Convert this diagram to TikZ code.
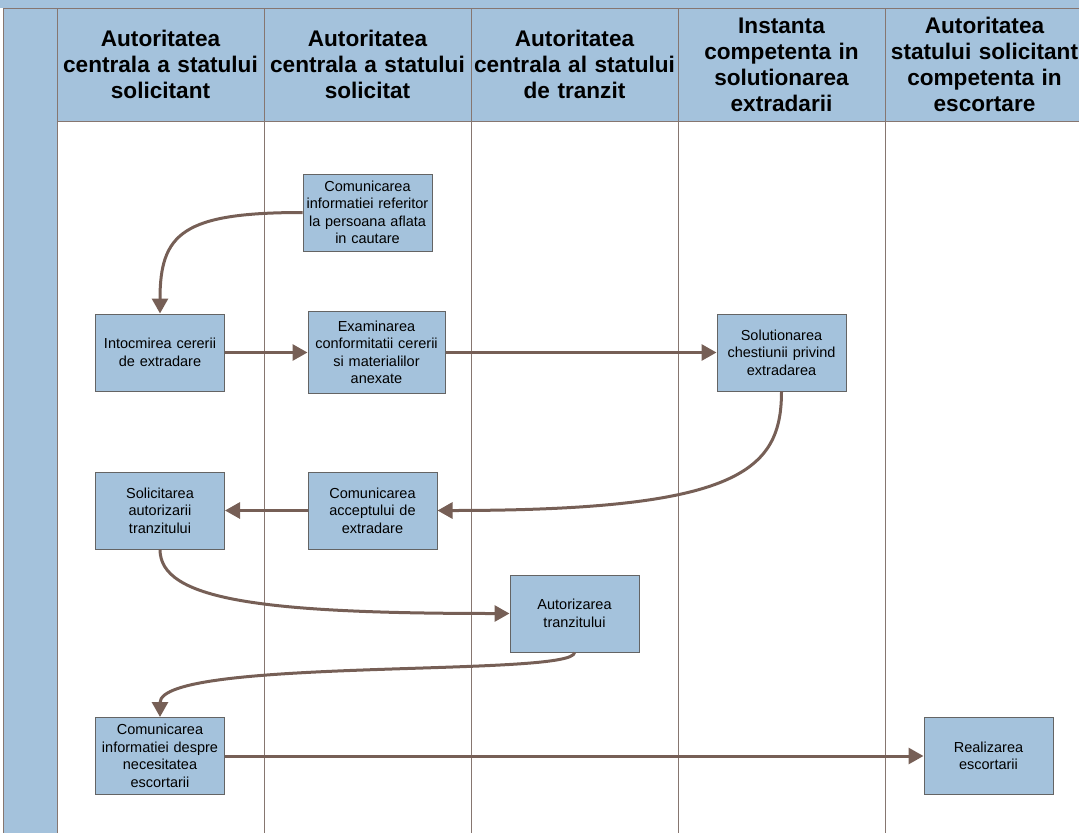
\documentclass[tikz,border=0pt]{standalone}
\usepackage{fontspec}
\setmainfont{Liberation Sans}
\usetikzlibrary{arrows.meta}
\definecolor{LaneBlue}{RGB}{164, 194, 220}
\definecolor{LaneLine}{RGB}{134, 118, 112}
\definecolor{BoxEdge}{RGB}{100, 100, 100}
\definecolor{FlowBrown}{RGB}{118, 95, 86}
\tikzset{
  lanehead/.style={font=\bfseries\fontsize{22.6}{26}\selectfont, align=center,
                   text width=230pt, inner sep=0pt},
  taskbox/.style={draw=BoxEdge, fill=LaneBlue, line width=1pt, text width=125pt,
                  inner sep=2pt, minimum height=77pt, align=center,
                  font=\fontsize{14.5}{17.5}\selectfont},
  flow/.style={draw=FlowBrown, line width=3pt, -{Triangle[length=15pt, width=16pt]}}
}

\begin{document}
\begin{tikzpicture}[x=1pt, y=-1pt]
  \useasboundingbox (0,0) rectangle (1079,833);
  % Background: top band, left band, header row
  \fill[LaneBlue] (0,0) rectangle (1079,8);
  \fill[LaneBlue] (3,8) rectangle (57,833);
  \fill[LaneBlue] (57,8) rectangle (1079,121);
  % Lane borders
  \draw[LaneLine, line width=1pt] (3,8) -- (1079,8);
  \draw[LaneLine, line width=1pt] (3,8) -- (3,833);
  \draw[LaneLine, line width=1pt] (57,121) -- (1079,121);
  \foreach \x in {57,264,...,885} {
    \draw[LaneLine, line width=1pt] (\x,8) -- (\x,833);
  }
  % Lane headers
  \foreach \n/\x/\t in {headSolicitant/160.5/{Autoritatea\\centrala a statului\\solicitant},
                        headSolicitat/367.5/{Autoritatea\\centrala a statului\\solicitat},
                        headTranzit/574.5/{Autoritatea\\centrala al statului\\de tranzit},
                        headInstanta/781.5/{Instanta\\competenta in\\solutionarea\\extradarii},
                        headEscorta/984.5/{Autoritatea\\statului solicitant\\competenta in\\escortare}} {
    \node[lanehead] (\n) at (\x,64.5) {\t};
  }
  % Tasks
  \node[taskbox] (comInfo) at (367.5,212.5) {Comunicarea\\informatiei referitor\\la persoana aflata\\in cautare};
  \node[taskbox] (intocmire) at (160,352.5) {Intocmirea cererii\\de extradare};
  \node[taskbox, text width=133pt, minimum height=82pt] (examinare) at (376.5,352.5)
       {Examinarea\\conformitatii cererii\\si materialilor\\anexate};
  \node[taskbox] (solutionare) at (781.5,352.5) {Solutionarea\\chestiunii privind\\extradarea};
  \node[taskbox] (solicitare) at (160,510.5) {Solicitarea\\autorizarii\\tranzitului};
  \node[taskbox] (acceptul) at (372.5,510.5) {Comunicarea\\acceptului de\\extradare};
  \node[taskbox] (autorizare) at (574.5,613.5) {Autorizarea\\tranzitului};
  \node[taskbox] (escortaInfo) at (160,756) {Comunicarea\\informatiei despre\\necesitatea\\escortarii};
  \node[taskbox] (escortare) at (988.5,756) {Realizarea\\escortarii};
  % Flow
  \draw[flow] (comInfo.west) .. controls +(-120,0) and +(0,-80) .. (intocmire.north);
  \draw[flow] (intocmire) -- (examinare);
  \draw[flow] (examinare) -- (solutionare);
  \draw[flow] (solutionare.south) .. controls +(0,80) and +(300,0) .. (acceptul.east);
  \draw[flow] (acceptul) -- (solicitare);
  \draw[flow] (solicitare.south) .. controls +(0,50) and +(-250,0) .. (autorizare.west);
  \draw[flow] (autorizare.south) .. controls +(0,25) and +(0,-60) .. (escortaInfo.north);
  \draw[flow] (escortaInfo) -- (escortare);
\end{tikzpicture}
\end{document}
